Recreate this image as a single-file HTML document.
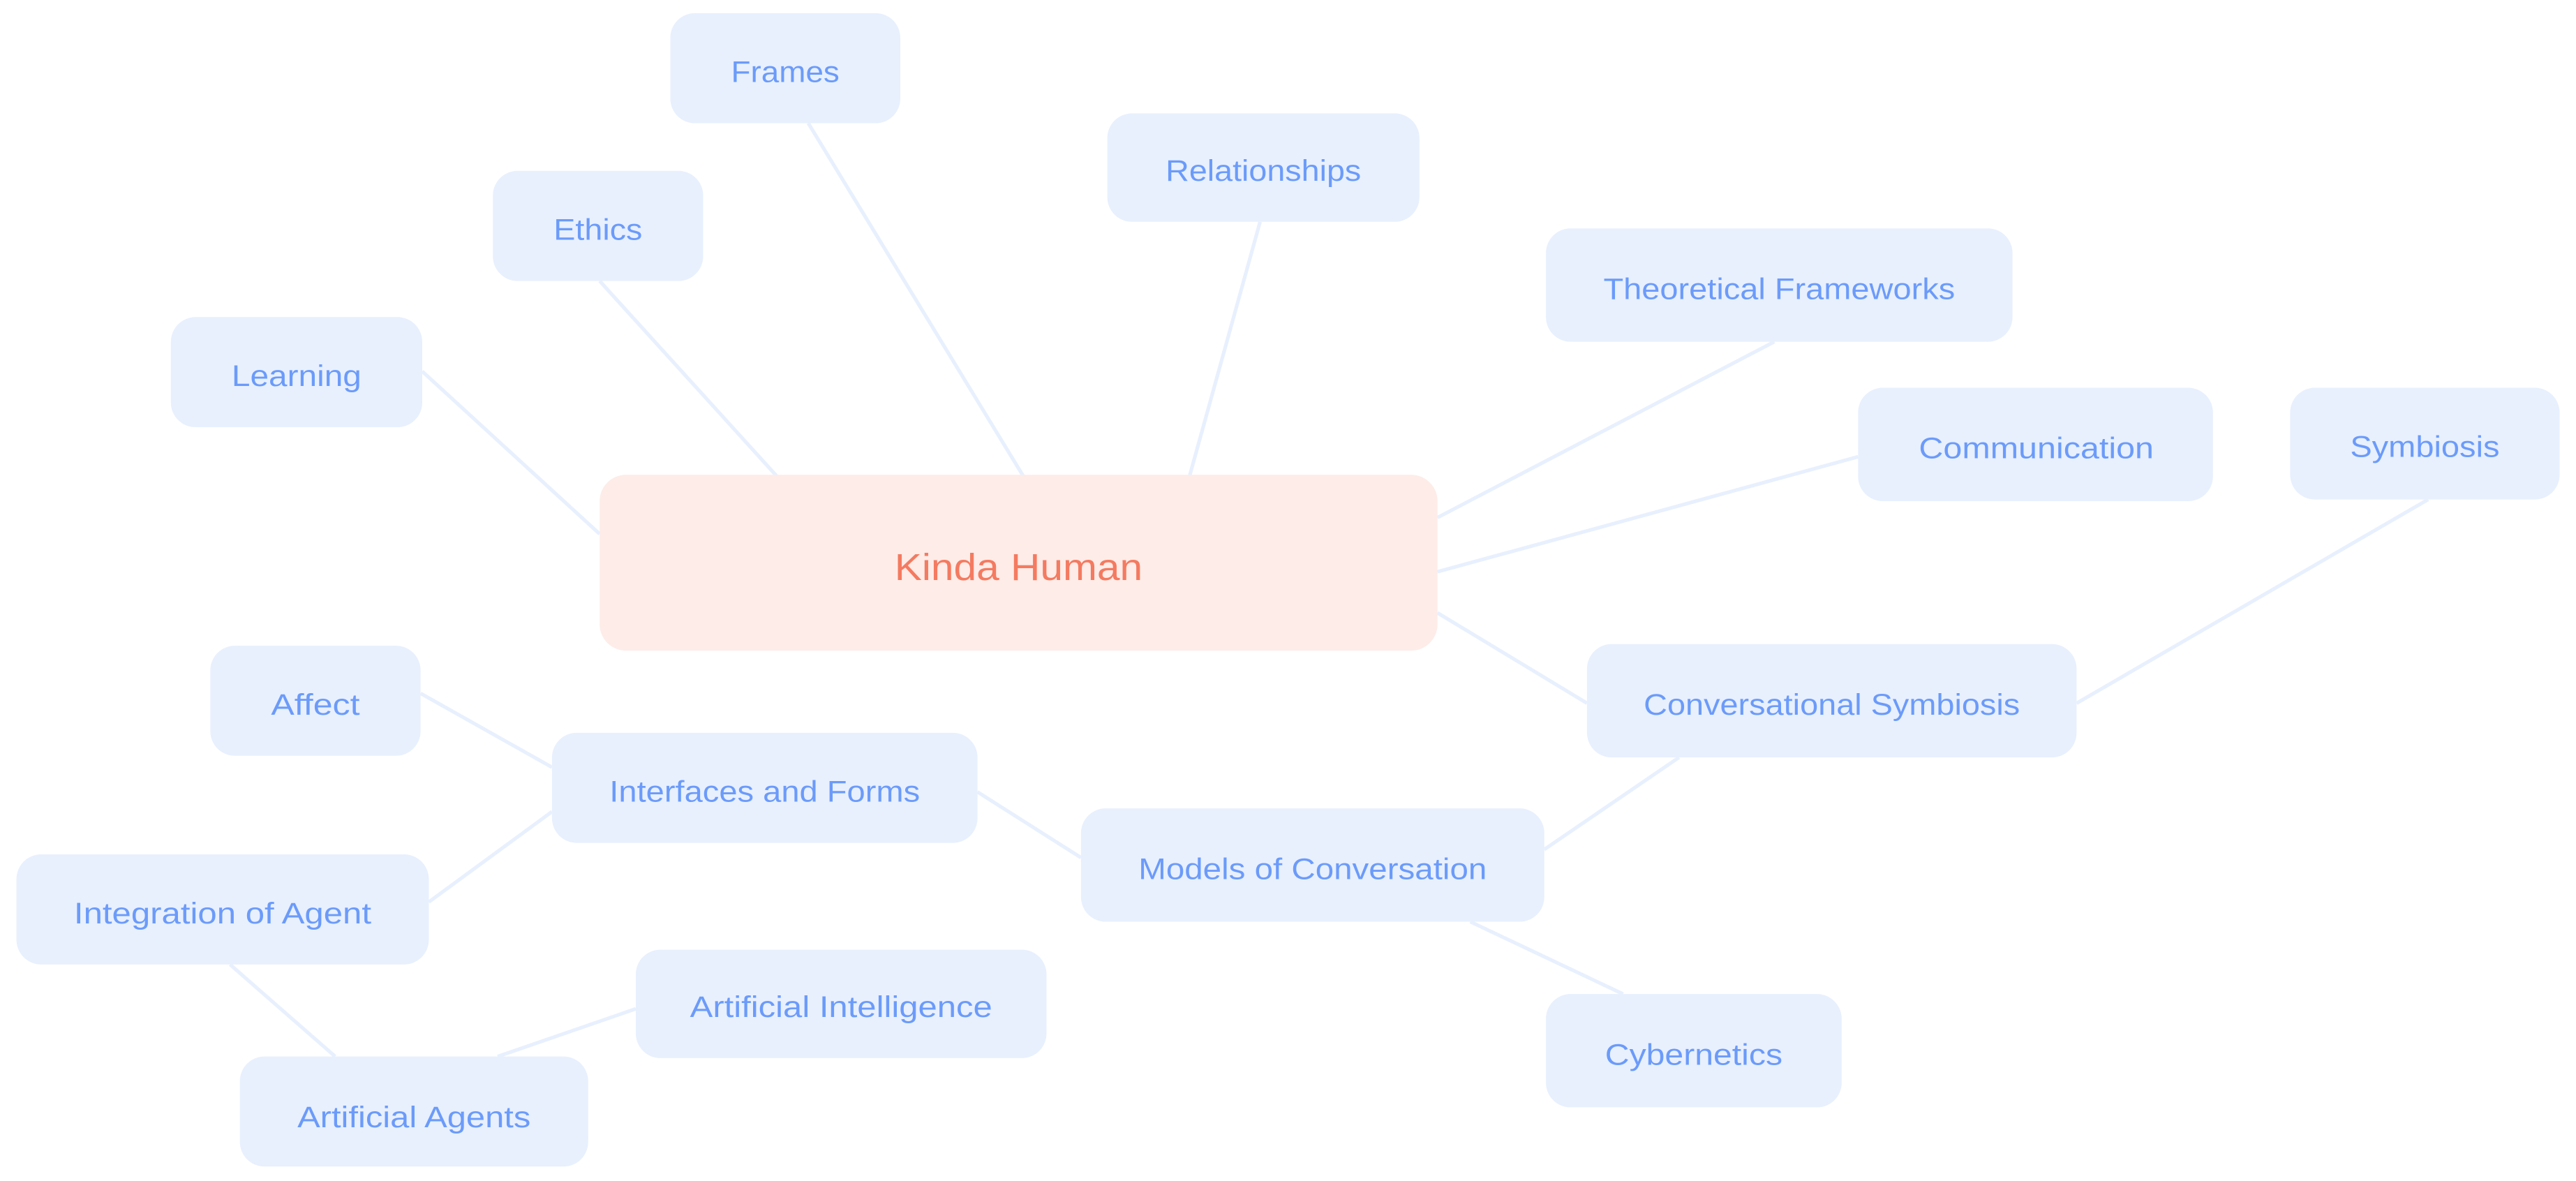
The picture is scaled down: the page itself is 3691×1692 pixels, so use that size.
<!DOCTYPE html>
<html><head><meta charset="utf-8"><style>
html,body{margin:0;padding:0;background:#fff;}
svg{display:block;}
text{font-family:"Liberation Sans",sans-serif;}
</style></head><body>
<svg width="3691" height="1692" viewBox="0 0 1568 718.8" preserveAspectRatio="none" xmlns="http://www.w3.org/2000/svg">
<rect width="1568" height="718.8" fill="#fff"/>
<g stroke="#E8F0FE" stroke-width="2.2" fill="none">
<line x1="257" y1="226" x2="365" y2="325"/>
<line x1="365" y1="171" x2="473" y2="290"/>
<line x1="492" y1="75" x2="623" y2="290"/>
<line x1="767" y1="135" x2="724" y2="290"/>
<line x1="1080" y1="208" x2="875" y2="315"/>
<line x1="1131" y1="278" x2="875" y2="348"/>
<line x1="875" y1="373" x2="966" y2="428"/>
<line x1="1264" y1="428" x2="1478" y2="304"/>
<line x1="1022" y1="461" x2="940" y2="517"/>
<line x1="895" y1="561" x2="988" y2="605"/>
<line x1="595" y1="482" x2="658" y2="522"/>
<line x1="256" y1="422" x2="336" y2="467"/>
<line x1="336" y1="494" x2="261" y2="549"/>
<line x1="140" y1="587" x2="204" y2="643"/>
<line x1="303" y1="643" x2="387" y2="614"/>
</g>
<g fill="#E8F0FE">
<rect x="408" y="8" width="140" height="67" rx="15"/>
<rect x="674" y="69" width="190" height="66" rx="15"/>
<rect x="300" y="104" width="128" height="67" rx="15"/>
<rect x="941" y="139" width="284" height="69" rx="15"/>
<rect x="104" y="193" width="153" height="67" rx="15"/>
<rect x="1131" y="236" width="216" height="69" rx="15"/>
<rect x="1394" y="236" width="164" height="68" rx="15"/>
<rect x="128" y="393" width="128" height="67" rx="15"/>
<rect x="966" y="392" width="298" height="69" rx="15"/>
<rect x="336" y="446" width="259" height="67" rx="15"/>
<rect x="658" y="492" width="282" height="69" rx="15"/>
<rect x="10" y="520" width="251" height="67" rx="15"/>
<rect x="387" y="578" width="250" height="66" rx="15"/>
<rect x="941" y="605" width="180" height="69" rx="15"/>
<rect x="146" y="643" width="212" height="67" rx="15"/>
</g>
<rect x="365" y="289" width="510" height="107" rx="16" fill="#FDECE8"/>
<g fill="#6B9BFA" font-size="18" text-anchor="middle">
<text x="478" y="50" textLength="66" lengthAdjust="spacingAndGlyphs">Frames</text>
<text x="769" y="110" textLength="119" lengthAdjust="spacingAndGlyphs">Relationships</text>
<text x="364" y="146" textLength="54" lengthAdjust="spacingAndGlyphs">Ethics</text>
<text x="1083" y="182" textLength="214" lengthAdjust="spacingAndGlyphs">Theoretical Frameworks</text>
<text x="180.5" y="235" textLength="79" lengthAdjust="spacingAndGlyphs">Learning</text>
<text x="1239.5" y="279" textLength="143" lengthAdjust="spacingAndGlyphs">Communication</text>
<text x="1476" y="278" textLength="91" lengthAdjust="spacingAndGlyphs">Symbiosis</text>
<text x="192" y="435" textLength="54" lengthAdjust="spacingAndGlyphs">Affect</text>
<text x="1115" y="435" textLength="229" lengthAdjust="spacingAndGlyphs">Conversational Symbiosis</text>
<text x="465.5" y="488" textLength="189" lengthAdjust="spacingAndGlyphs">Interfaces and Forms</text>
<text x="799" y="535" textLength="212" lengthAdjust="spacingAndGlyphs">Models of Conversation</text>
<text x="135.5" y="562" textLength="181" lengthAdjust="spacingAndGlyphs">Integration of Agent</text>
<text x="512" y="619" textLength="184" lengthAdjust="spacingAndGlyphs">Artificial Intelligence</text>
<text x="1031" y="648" textLength="108" lengthAdjust="spacingAndGlyphs">Cybernetics</text>
<text x="252" y="686" textLength="142" lengthAdjust="spacingAndGlyphs">Artificial Agents</text>
</g>
<text x="620" y="353" font-size="23" fill="#F47A60" text-anchor="middle" textLength="151" lengthAdjust="spacingAndGlyphs">Kinda Human</text>
</svg>
</body></html>
